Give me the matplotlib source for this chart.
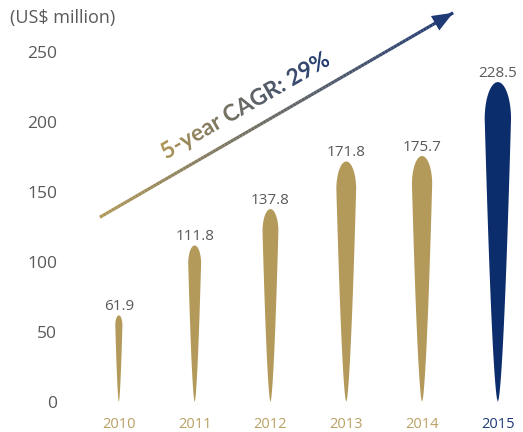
import numpy as np
import matplotlib
matplotlib.use("Agg")
import matplotlib.pyplot as plt
from matplotlib.collections import LineCollection
from matplotlib.colors import LinearSegmentedColormap
from matplotlib.font_manager import FontProperties
from matplotlib.patches import Polygon, PathPatch
from matplotlib.textpath import TextPath
from matplotlib.transforms import Affine2D

years = ["2010", "2011", "2012", "2013", "2014", "2015"]
revenue = [61.9, 111.8, 137.8, 171.8, 175.7, 228.5]
y_ticks = [0, 50, 100, 150, 200, 250]
unit_label = "(US$ million)"
cagr_label = "5-year CAGR: 29%"

GOLD = "#b39a5a"
NAVY = "#0b2d6c"
GOLD_TXT = "#b99f63"
NAVY_TXT = "#1d3a75"
GREY = "#5a5a5a"

plt.rcParams["font.family"] = ["Open Sans", "DejaVu Sans"]

gold_navy = LinearSegmentedColormap.from_list("gold_navy", ["#b09858", "#1f3a74"])


def drop_outline(x, height, half_width, waist=0.885, power=0.6, n=80):
    """Teardrop outline: sharp tip at zero, widest near the top, oval cap."""
    t_body = np.linspace(0, waist, n)
    w_body = half_width * (t_body / waist) ** power
    phi = np.linspace(0, np.pi / 2, n)[1:]
    t_cap = waist + (1 - waist) * np.sin(phi)
    w_cap = half_width * np.cos(phi)
    t = np.concatenate([t_body, t_cap])
    w = np.concatenate([w_body, w_cap])
    right = np.column_stack([x + w, t * height])
    left = np.column_stack([x - w[::-1], t[::-1] * height])
    return np.vstack([right, left])


fig = plt.figure(figsize=(5.23, 4.32), dpi=100)
ax = fig.add_axes([62 / 523, 30 / 432, 458.6 / 523, 392 / 432])
xlim, ylim = (-0.75, 5.3), (0, 280)
ax.set_xlim(*xlim)
ax.set_ylim(*ylim)
for s in ax.spines.values():
    s.set_visible(False)

xs = np.arange(len(years))
bar_colors = [GOLD] * (len(years) - 1) + [NAVY]
label_colors = [GOLD_TXT] * (len(years) - 1) + [NAVY_TXT]

# drops: width grows with the value
for x, v, c in zip(xs, revenue, bar_colors):
    ax.add_patch(Polygon(drop_outline(x, v, v * 0.00076), closed=True,
                         fc=c, ec="none"))
    ax.annotate(f"{v:.1f}", (x, v), xytext=(0, 1), textcoords="offset points",
                ha="center", va="bottom", fontsize=11, color=GREY)

ax.set_yticks(y_ticks)
ax.tick_params(axis="y", length=0, pad=3.6, labelsize=12.5, labelcolor=GREY)
ax.set_xticks(xs, years)
ax.tick_params(axis="x", length=0, pad=11, labelsize=10.5)
for lbl, c in zip(ax.get_xticklabels(), label_colors):
    lbl.set_color(c)

fig.text(10 / 523, 1 - 18 / 432, unit_label, ha="left", va="center",
         fontsize=13, color=GREY)

# growth arrow with gold-to-navy shading
start = np.array([-0.25, 132.0])
end = np.array([4.41, 278.0])
pts = start + np.linspace(0, 1, 120)[:, None] * (end - start)
segs = np.stack([pts[:-1], pts[1:]], axis=1)
lc = LineCollection(segs, colors=gold_navy(np.linspace(0, 1, len(segs))),
                    linewidths=2.3, capstyle="butt", clip_on=False)
ax.add_collection(lc)
ax.annotate("", xy=end, xytext=start + 0.93 * (end - start),
            arrowprops=dict(arrowstyle="-|>,head_length=0.75,head_width=0.3",
                            mutation_scale=20, color="#1f3a74", lw=0,
                            shrinkA=0, shrinkB=0),
            annotation_clip=False)

# slanted CAGR caption, filled with the same shading
p0, p1 = ax.transData.transform([start, end])
angle = np.degrees(np.arctan2(p1[1] - p0[1], p1[0] - p0[0]))
fp = FontProperties(family="Lato", weight="bold", style="normal", size=16.5)
tp = TextPath((0, 0), cagr_label, prop=fp)
anchor = ax.transData.transform((0.62, 173))
to_disp = Affine2D().scale(fig.dpi / 72).rotate_deg(angle).translate(*anchor)
patch = PathPatch(tp, transform=to_disp, fc="none", ec="none")
verts = ax.transData.inverted().transform(to_disp.transform(tp.vertices))
x0, y0 = verts.min(axis=0)
x1, y1 = verts.max(axis=0)
img = ax.imshow(np.linspace(0, 1, 256)[None, :], cmap=gold_navy,
                extent=[x0, x1, y0, y1], aspect="auto", interpolation="bilinear")
img.set_clip_path(patch)
ax.set_xlim(*xlim)
ax.set_ylim(*ylim)

fig.savefig("out.png", dpi=100)
